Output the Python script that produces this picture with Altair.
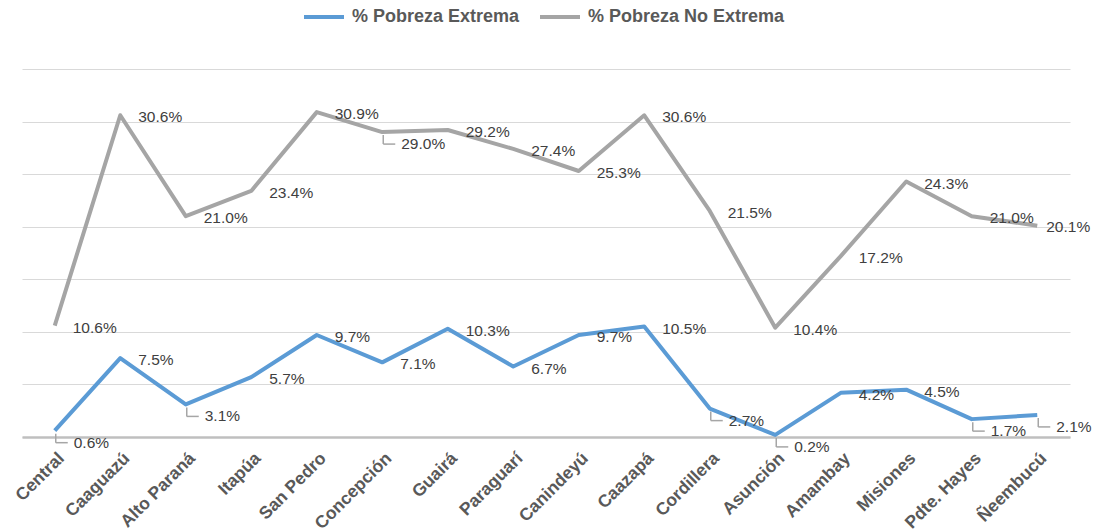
import altair as alt
import pandas as pd

categories = ["Central", "Caaguazú", "Alto Paraná", "Itapúa", "San Pedro", "Concepción",
              "Guairá", "Paraguarí", "Canindeyú", "Caazapá", "Cordillera", "Asunción",
              "Amambay", "Misiones", "Pdte. Hayes", "Ñeembucú"]
extrema = [0.6, 7.5, 3.1, 5.7, 9.7, 7.1, 10.3, 6.7, 9.7, 10.5, 2.7, 0.2, 4.2, 4.5, 1.7, 2.1]
no_extrema = [10.6, 30.6, 21.0, 23.4, 30.9, 29.0, 29.2, 27.4, 25.3, 30.6, 21.5, 10.4, 17.2, 24.3, 21.0, 20.1]
series_names = ["% Pobreza Extrema", "% Pobreza No Extrema"]
y_ticks = [0, 5, 10, 15, 20, 25, 30, 35]

rows = []
for name, vals in zip(series_names, [extrema, no_extrema]):
    for c, v in zip(categories, vals):
        rows.append({"category": c, "series": name, "value": v, "key": name + "|" + c})
df = pd.DataFrame(rows)

# labels that were dragged below-right of their point (shown with a leader line)
moved_keys = ["% Pobreza Extrema|Central", "% Pobreza Extrema|Alto Paraná",
              "% Pobreza No Extrema|Concepción", "% Pobreza Extrema|Cordillera",
              "% Pobreza Extrema|Asunción", "% Pobreza Extrema|Pdte. Hayes",
              "% Pobreza Extrema|Ñeembucú"]
# label at the very right edge, pulled in slightly so it stays inside the page
edge_keys = ["% Pobreza No Extrema|Ñeembucú"]
moved_expr = "indexof(" + str(moved_keys) + ", datum.key) >= 0"
edge_expr = "indexof(" + str(edge_keys) + ", datum.key) >= 0"

FONT = "Liberation Sans"
LEADER = "#A6A6A6"

x_axis = alt.Axis(labelAngle=-45, labelAlign="right", labelBaseline="top",
                  labelFontWeight="bold", labelFontSize=17.5, labelColor="#595959",
                  labelFont=FONT, domainColor="#BFBFBF", domainWidth=2.5,
                  ticks=False, grid=False, title=None, labelPadding=12, labelLimit=300)
x_enc = alt.X("category:N", sort=categories,
              scale=alt.Scale(type="point", padding=0.5), axis=x_axis)
x_plain = alt.X("category:N", sort=categories)
y_enc = alt.Y("value:Q", scale=alt.Scale(domain=[0, 35], nice=False),
              axis=alt.Axis(values=y_ticks, labels=False, ticks=False, domain=False,
                            grid=True, gridColor="#D9D9D9", gridWidth=1, title=None))

base = alt.Chart(df)

lines = base.mark_line(strokeWidth=4, strokeJoin="round").encode(
    x=x_enc, y=y_enc,
    color=alt.Color("series:N", sort=series_names,
                    scale=alt.Scale(domain=series_names, range=["#5B9BD5", "#A5A5A5"]),
                    legend=alt.Legend(title=None, orient="none", legendX=280, legendY=-74,
                                      direction="horizontal", symbolType="stroke",
                                      symbolSize=1600, symbolStrokeWidth=4,
                                      labelFont=FONT, labelFontSize=18,
                                      labelFontWeight="bold", labelColor="#595959",
                                      columnPadding=12, labelOffset=6, labelLimit=400)),
)

labels = base.transform_calculate(
    label="format(datum.value, '.1f') + '%'",
    moved=moved_expr,
    edge=edge_expr,
)

normal_text = labels.transform_filter("!datum.moved && !datum.edge").mark_text(
    align="left", baseline="middle", dx=18, dy=2, font=FONT, fontSize=15.5, color="#404040"
).encode(x=x_plain, y="value:Q", text="label:N")

edge_text = labels.transform_filter("datum.edge").mark_text(
    align="left", baseline="middle", dx=9, dy=1, font=FONT, fontSize=15.5, color="#404040"
).encode(x=x_plain, y="value:Q", text="label:N")

moved = labels.transform_filter("datum.moved")

moved_text = moved.mark_text(
    align="left", baseline="middle", dx=19, dy=12, font=FONT, fontSize=15.5, color="#404040"
).encode(x=x_plain, y="value:Q", text="label:N")

leader_v = moved.mark_rule(color=LEADER, strokeWidth=1.5, xOffset=1, x2Offset=1,
                           yOffset=3, y2Offset=12).encode(
    x=x_plain, x2="category:N", y="value:Q", y2="value:Q")
leader_h = moved.mark_rule(color=LEADER, strokeWidth=1.5, xOffset=1, x2Offset=13,
                           yOffset=12, y2Offset=12).encode(
    x=x_plain, x2="category:N", y="value:Q", y2="value:Q")

chart = alt.layer(lines, leader_v, leader_h, normal_text, edge_text, moved_text).properties(
    width=1048, height=368,
    padding={"left": 14, "top": 61, "right": 22, "bottom": 92},
    autosize=alt.AutoSizeParams(type="none"),
).configure_view(stroke=None)

chart.save("out.html", embed_options={"renderer": "svg", "actions": False})
